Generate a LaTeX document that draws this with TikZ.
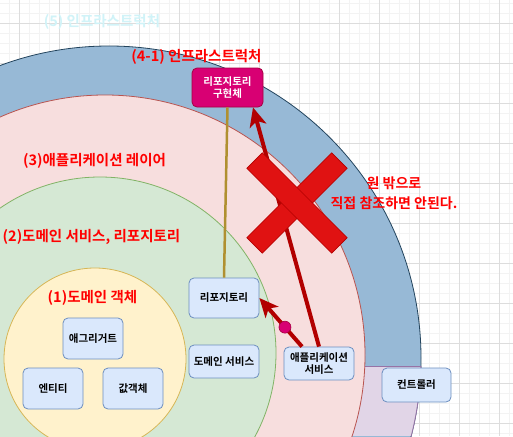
\documentclass[tikz,border=0pt]{standalone}
\usepackage{fontspec}
\setmainfont{Noto Sans CJK KR}[BoldFont={Noto Sans CJK KR Bold}]
\usetikzlibrary{arrows.meta,calc}
\definecolor{gridminor}{HTML}{F3F3F3}
\definecolor{gridmajor}{HTML}{DDDDDD}
\definecolor{ringblue}{HTML}{97B9D6}
\definecolor{ringbluedraw}{HTML}{23445D}
\definecolor{ringpurple}{HTML}{E1D5E7}
\definecolor{ringpurpledraw}{HTML}{9673A6}
\definecolor{apppink}{HTML}{F7DEDE}
\definecolor{apppinkdraw}{HTML}{B85450}
\definecolor{domgreen}{HTML}{D5E8D4}
\definecolor{domgreendraw}{HTML}{82B366}
\definecolor{objyellow}{HTML}{FFF2CC}
\definecolor{objyellowdraw}{HTML}{D6B656}
\definecolor{boxfill}{HTML}{DAE8FC}
\definecolor{boxdraw}{HTML}{6C8EBF}
\definecolor{implfill}{HTML}{D80073}
\definecolor{impldraw}{HTML}{A50040}
\definecolor{labelred}{HTML}{FF0000}
\definecolor{faintcyan}{HTML}{D0F3F8}
\definecolor{arrowred}{HTML}{B20000}
\definecolor{xred}{HTML}{E01212}
\definecolor{olive}{HTML}{B09030}
\begin{document}
\begin{tikzpicture}[x=1pt,y=-1pt,
  box/.style={draw=boxdraw, fill=boxfill, rounded corners=5pt, line width=0.8pt,
    inner sep=0pt, align=center, font=\fontsize{10.5}{12}\selectfont\bfseries},
  implbox/.style={box, draw=impldraw, fill=implfill, text=white},
  lbl/.style={inner sep=0pt, text=labelred, font=\fontsize{14.5}{16}\selectfont\bfseries},
  xbar/.style={draw=arrowred, fill=xred, line width=0.6pt, minimum width=120pt, minimum height=22pt, inner sep=0pt},
  bigarrow/.style={draw=arrowred, line width=4pt, -{Stealth[length=19pt,width=17pt,inset=5pt]}}
]
\useasboundingbox (0,0) rectangle (513,436);
\begin{scope}
\clip (0,0) rectangle (513,436);
\fill[white] (0,0) rectangle (513,436);
\foreach \x in {9.5,19.5,...,509.5} \draw[gridminor, line width=0.8pt] (\x,0) -- (\x,436);
\foreach \y in {3,13,...,433} \draw[gridminor, line width=0.8pt] (0,\y) -- (513,\y);
\foreach \x in {19.5,59.5,...,499.5} \draw[gridmajor, line width=0.8pt] (\x,0) -- (\x,436);
\foreach \y in {23,63,...,423} \draw[gridmajor, line width=0.8pt] (0,\y) -- (513,\y);
% outer ring
\filldraw[fill=ringblue, draw=ringbluedraw, line width=0.8pt] (109,358) circle[radius=312pt];
\begin{scope}
\clip (109,358) circle[radius=312pt];
\fill[ringpurple] (0,366) rectangle (513,436);
\draw[ringpurpledraw, line width=0.8pt] (200,366) -- (513,366);
\end{scope}
\begin{scope}
\clip (0,366) rectangle (513,436);
\draw[ringpurpledraw, line width=0.8pt] (109,358) circle[radius=312pt];
\end{scope}
% application layer
\filldraw[fill=apppink, draw=apppinkdraw, line width=0.8pt] (105,355) circle[radius=260pt];
% domain services
\filldraw[fill=domgreen, draw=domgreendraw, line width=0.8pt] (100,353) circle[radius=176pt];
% domain objects
\filldraw[fill=objyellow, draw=objyellowdraw, line width=0.8pt] (95,359) circle[radius=91pt];
\end{scope}
% labels
\node[lbl, text=faintcyan] (l5) at (102,22) {(5) 인프라스트럭처};
\node[lbl] (l41) at (196.5,57) {(4-1) 인프라스트럭처};
\node[lbl] (l3) at (94.5,161) {(3)애플리케이션 레이어};
\node[lbl] (l2) at (91.5,237) {(2)도메인 서비스, 리포지토리};
\node[lbl] (l1) at (92.5,298) {(1)도메인 객체};
\node[lbl, align=center, font=\fontsize{14}{20}\selectfont\bfseries] (warn) at (394,193) {원 밖으로\\직접 참조하면 안된다.};
% boxes
\node[box, minimum width=60pt, minimum height=41pt] (agg) at (93,338.5) {애그리거트};
\node[box, minimum width=60pt, minimum height=41pt] (ent) at (53,388.5) {엔티티};
\node[box, minimum width=60pt, minimum height=41pt] (val) at (133,388.5) {값객체};
\node[box, minimum width=70pt, minimum height=40pt] (repo) at (224,298) {리포지토리};
\node[box, minimum width=70pt, minimum height=33pt] (dsvc) at (224,361.5) {도메인 서비스};
\node[box, minimum width=70pt, minimum height=33pt] (app) at (319,363.5) {애플리케이션\\서비스};
\node[box, minimum width=69pt, minimum height=34pt] (ctrl) at (416.5,385) {컨트롤러};
\node[implbox, minimum width=71pt, minimum height=39pt] (impl) at (227.5,87.5) {리포지토리\\구현체};
% connectors
\draw[olive, line width=2.5pt] (impl.south) -- (repo.north);
\draw[bigarrow] (app.north) -- ($(impl.south)+(25.5,0)$);
\node[xbar, rotate=45] (xa) at (297,203) {};
\node[xbar, rotate=-45] (xb) at (297,203) {};
\draw[bigarrow] ($(app.north)+(-17,0)$) -- (repo.east)
  node[pos=0.4, circle, fill=implfill, draw=impldraw, line width=0.6pt, minimum size=12pt, inner sep=0pt] (dot) {};
\end{tikzpicture}
\end{document}
